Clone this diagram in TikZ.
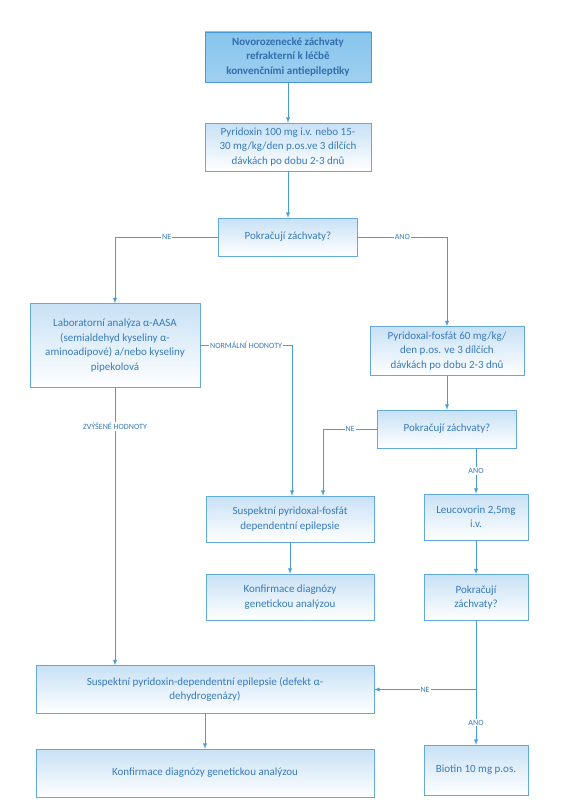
\documentclass[tikz,border=0pt]{standalone}
\usepackage{fontspec}
\setmainfont{Carlito}
\usetikzlibrary{positioning, shapes.geometric, arrows}
\definecolor{lineblue}{RGB}{72,155,213}
\definecolor{textblue}{RGB}{55,122,190}
\definecolor{fillblue}{RGB}{135,196,236}
\definecolor{shadeblue}{RGB}{200,225,245}
\tikzstyle{startbox} = [rectangle, minimum width=166pt, minimum height=50pt, align=center, draw=lineblue, top color=fillblue, bottom color=fillblue!80!white, text=textblue!90!black, font=\fontsize{11}{14.5}\selectfont\bfseries]
\tikzstyle{process} = [rectangle, minimum height=46pt, align=center, draw=lineblue!85!white, top color=shadeblue, bottom color=white, text=textblue, font=\fontsize{11}{14.5}\selectfont]
\tikzstyle{question} = [process, minimum width=139pt, minimum height=38pt]
\tikzstyle{smallbox} = [process, minimum width=104pt]
\tikzstyle{widebox} = [process, minimum width=338pt, minimum height=48pt]
\tikzstyle{arrow} = [line width=0.9pt, draw=lineblue, ->, >=latex]
\tikzstyle{line} = [line width=0.9pt, draw=lineblue]
\tikzstyle{answer} = [font=\fontsize{8}{9}\selectfont, text=textblue, fill=white, inner sep=1pt]

\begin{document}
\begin{tikzpicture}[x=1pt, y=1pt, node distance=90pt]
\useasboundingbox (0,0) rectangle (561,-800);

%Nodes
\node (start) [startbox] at (288,-57) {Novorozenecké záchvaty\\refrakterní k léčbě\\konvenčními antiepileptiky};
\node (pyrdx) [process, minimum width=166pt, minimum height=48pt, below of=start] {Pyridoxin 100 mg i.v. nebo 15-\\30 mg/kg/den p.os.ve 3 dílčích\\dávkách po dobu 2-3 dnů};
\node (dec1) [question, below of=pyrdx] {Pokračují záchvaty?};
\node (lab) [process, minimum width=170pt, minimum height=84pt, below of=dec1, xshift=-173pt, yshift=-18.5pt] {Laboratorní analýza α-AASA\\(semialdehyd kyseliny α-\\aminoadipové) a/nebo kyseliny\\pipekolová};
\node (plp) [process, minimum width=154pt, minimum height=49pt, below of=dec1, xshift=159pt, yshift=-24pt] {Pyridoxal-fosfát 60 mg/kg/\\den p.os. ve 3 dílčích\\dávkách po dobu 2-3 dnů};
\node (dec2) [question, below of=plp, yshift=12pt] {Pokračují záchvaty?};
\node (susplp) [process, minimum width=168pt, below of=dec2, xshift=-157pt] {Suspektní pyridoxal-fosfát\\dependentní epilepsie};
\node (leuco) [smallbox, below of=dec2, xshift=29pt, yshift=2pt] {Leucovorin 2,5mg\\i.v.};
\node (konf1) [process, minimum width=168pt, below of=susplp, yshift=12pt] {Konfirmace diagnózy\\genetickou analýzou};
\node (dec3) [smallbox, below of=leuco, yshift=9.5pt] {Pokračují\\záchvaty?};
\node (susppyr) [widebox, below of=konf1, xshift=-85pt, yshift=-2.5pt] {Suspektní pyridoxin-dependentní epilepsie (defekt α-\\dehydrogenázy)};
\node (konf2) [widebox, below of=susppyr, yshift=6.5pt] {Konfirmace diagnózy genetickou analýzou};
\node (biotin) [smallbox, minimum height=50pt, below of=dec3, yshift=-82.5pt] {Biotin 10 mg p.os.};
\coordinate (split) at (dec3.south |- susppyr.east);

%Arrows
\draw [arrow] (start) -- (pyrdx);
\draw [arrow] (pyrdx) -- (dec1);
\draw [arrow] (dec1.west) -| node[answer, pos=0.25] {NE} (lab.north);
\draw [arrow] (dec1.east) -| node[answer, pos=0.25] {ANO} (plp.north);
\draw [arrow] (lab.east) -| node[answer, pos=0.25] {NORMÁLNÍ HODNOTY} ([xshift=2pt]susplp.north);
\draw [arrow] (lab.south) -- node[answer, pos=0.14] {ZVÝŠENÉ HODNOTY} (lab.south |- susppyr.north);
\draw [arrow] (plp) -- (dec2);
\draw [arrow] (dec2.west) -| node[answer, pos=0.25] {NE} ([xshift=33pt]susplp.north);
\draw [arrow] (dec2.south -| leuco.north) -- node[answer] {ANO} (leuco);
\draw [arrow] (susplp) -- (konf1);
\draw [arrow] (leuco) -- (dec3);
\draw [line] (dec3) -- (split);
\draw [arrow] (split) -- node[answer, pos=0.6] {ANO} (biotin);
\draw [arrow] (split) -- node[answer] {NE} (susppyr.east);
\draw [arrow] (susppyr) -- (konf2);

\end{tikzpicture}
\end{document}
